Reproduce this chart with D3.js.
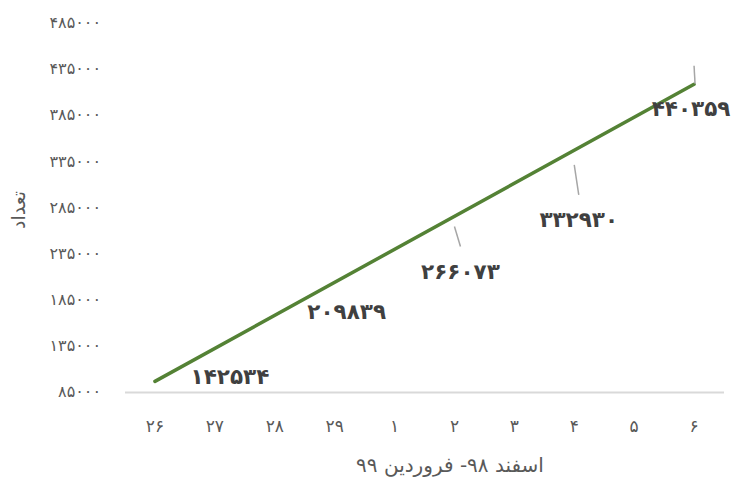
<!DOCTYPE html>
<html><head><meta charset="utf-8">
<script src="https://cdn.jsdelivr.net/npm/d3@7"></script>
<style>
html,body{margin:0;padding:0;background:#fff;}
svg{display:block;}
</style></head>
<body>
<svg id="chart" width="732" height="480"></svg>
<script>
// ---- data ----
const categories = ["26","27","28","29","1","2","3","4","5","6"];
const labeledDays = ["26","29","2","4","6"];
const labeledValues = [142534, 209839, 266073, 332930, 440359];
const trendDays = ["26","6"];
const trendValues = [96000, 418000];
const yTicks = [85000,135000,185000,235000,285000,335000,385000,435000,485000];
const xTitle = "اسفند ۹۸- فروردین ۹۹";
const yTitle = "تعداد";

// ---- label layout (pixel offsets from point) ----
const labelOffsets = [[75,38],[12,35],[6,47],[4.5,57],[-3,45]];
const leaderEnds = [null,null,[6,22],[4.5,32],[1,20]];

const fa = s => String(s).replace(/[0-9]/g, d => "۰۱۲۳۴۵۶۷۸۹"[d]);

const svg = d3.select("#chart");
const x = d3.scaleBand().domain(categories).range([125,724]);
const y = d3.scaleLinear().domain([85000,485000]).range([391.5,22.5]);
const cx = d => x(d) + x.bandwidth()/2;

// y axis labels
const yAxis = d3.axisLeft(y).tickValues(yTicks).tickSize(0).tickPadding(0).tickFormat(fa);
const gy = svg.append("g").attr("transform","translate(101,0)").call(yAxis);
gy.select(".domain").remove();
gy.selectAll("text").attr("font-family","DejaVu Sans").attr("font-size",16).attr("fill","#595959");

// x axis
const xAxis = d3.axisBottom(x).tickSize(0).tickPadding(0).tickFormat(fa);
const gx = svg.append("g").attr("transform","translate(0,392.5)").call(xAxis);
gx.select(".domain").attr("stroke","#d9d9d9").attr("stroke-width",2).attr("d","M125,0H724");
gx.selectAll("text").attr("font-family","DejaVu Sans").attr("font-size",17).attr("fill","#595959").attr("dy",0).attr("y",39);

// titles
svg.append("text").attr("x",450).attr("y",472).attr("text-anchor","middle")
  .attr("font-family","DejaVu Sans").attr("font-size",20).attr("fill","#595959").text(xTitle);
svg.append("text").attr("transform","translate(25,210) rotate(-90)").attr("text-anchor","middle")
  .attr("font-family","DejaVu Sans").attr("font-size",19).attr("fill","#595959").text(yTitle);

// trend line
const line = d3.line().x(d => cx(d[0])).y(d => y(d[1]));
svg.append("path").datum(trendDays.map((d,i)=>[d,trendValues[i]]))
  .attr("d",line).attr("fill","none").attr("stroke","#548235").attr("stroke-width",3.5).attr("stroke-linecap","round");

// labels and leaders
labeledDays.forEach((d,i)=>{
  const px = cx(d), py = y(labeledValues[i]);
  const [dx,dy] = labelOffsets[i];
  if (leaderEnds[i]) {
    svg.append("line").attr("x1",px).attr("y1",py+2).attr("x2",px+leaderEnds[i][0]).attr("y2",py+leaderEnds[i][1])
      .attr("stroke","#a6a6a6").attr("stroke-width",1.5);
  }
  svg.append("text").attr("x",px+dx).attr("y",py+dy).attr("dy","0.35em").attr("text-anchor","middle")
    .attr("font-family","DejaVu Sans").attr("font-weight","bold").attr("font-size",21.5).attr("fill","#404040")
    .text(fa(labeledValues[i]));
});
</script>
</body></html>
